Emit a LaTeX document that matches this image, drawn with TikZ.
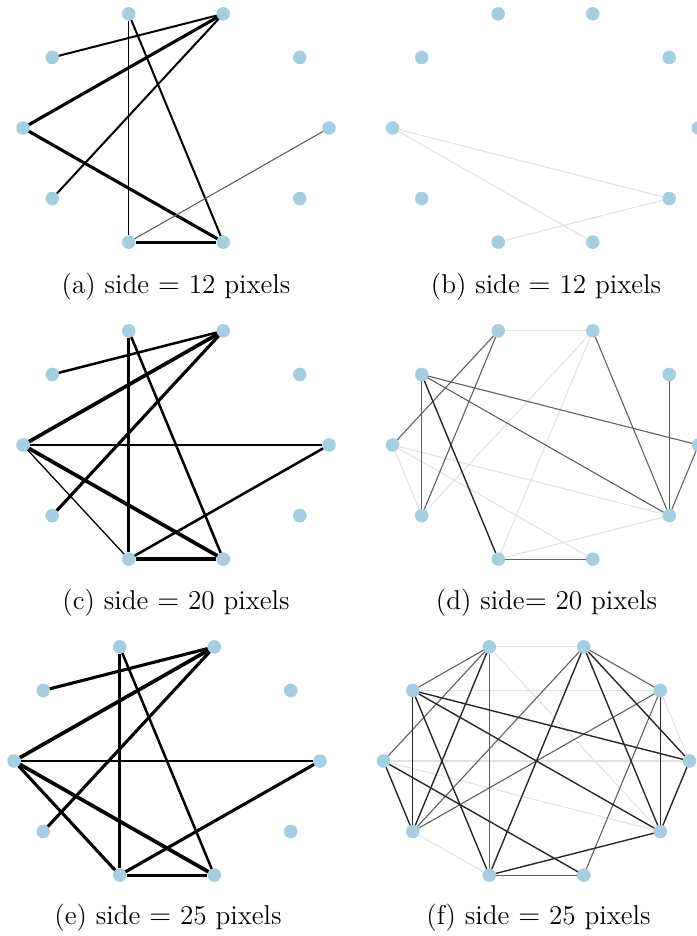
\documentclass[tikz,border=0pt]{standalone}

\definecolor{vertexblue}{RGB}{166,206,227}
\definecolor{edgedark}{RGB}{40,40,40}
\definecolor{edgegray}{RGB}{95,95,95}
\definecolor{edgelight}{RGB}{226,226,226}

\begin{document}
\begin{tikzpicture}[
  x=0.5pt,
  y=-0.5pt,
  every node/.style={inner sep=0pt, outer sep=0pt},
  vertex/.style={circle, fill=vertexblue, minimum size=6.8pt},
  caption/.style={font=\fontsize{13.6}{16}\selectfont, text=black, align=center},
  thinedge/.style={draw=black, line width=0.65pt},
  midedge/.style={draw=black, line width=1.0pt},
  boldedge/.style={draw=black, line width=1.25pt},
  heavyedge/.style={draw=black, line width=1.55pt},
  fatedge/.style={draw=black, line width=1.85pt},
  grayedge/.style={draw=edgegray, line width=0.55pt},
  darkedge/.style={draw=edgedark, line width=0.7pt},
  lightedge/.style={draw=edgelight, line width=0.55pt}
]

  \path[use as bounding box] (0,0) rectangle (696,936);

  % Ten vertices on an ellipse for every panel.
  \foreach \k in {0,...,9} {
    \node[vertex] (a\k) at ({176+153*cos(36*\k)},{128-120*sin(36*\k)}) {};
    \node[vertex] (b\k) at ({545.5+153*cos(36*\k)},{128-120*sin(36*\k)}) {};
    \node[vertex] (c\k) at ({176+153*cos(36*\k)},{445-120*sin(36*\k)}) {};
    \node[vertex] (d\k) at ({545.5+153*cos(36*\k)},{445-120*sin(36*\k)}) {};
    \node[vertex] (e\k) at ({167+153*cos(36*\k)},{761-120*sin(36*\k)}) {};
    \node[vertex] (f\k) at ({536.5+153*cos(36*\k)},{761-120*sin(36*\k)}) {};
  }

  % (a) side = 12 pixels.
  \draw[midedge] (a4) -- (a2);
  \draw[heavyedge] (a5) -- (a2);
  \draw[midedge] (a6) -- (a2);
  \draw[thinedge] (a3) -- (a7);
  \draw[midedge] (a3) -- (a8);
  \draw[heavyedge] (a5) -- (a8);
  \draw[heavyedge] (a7) -- (a8);
  \draw[grayedge] (a7) -- (a0);
  \node[caption] (capa) at (176,287) {(a) side $=$ 12 pixels};

  % (b) side = 12 pixels.
  \draw[lightedge] (b5) -- (b9);
  \draw[lightedge] (b5) -- (b8);
  \draw[lightedge] (b7) -- (b9);
  \node[caption] (capb) at (546,287) {(b) side $=$ 12 pixels};

  % (c) side = 20 pixels.
  \draw[boldedge] (c4) -- (c2);
  \draw[fatedge] (c5) -- (c2);
  \draw[heavyedge] (c6) -- (c2);
  \draw[heavyedge] (c3) -- (c7);
  \draw[boldedge] (c3) -- (c8);
  \draw[midedge] (c5) -- (c0);
  \draw[fatedge] (c5) -- (c8);
  \draw[thinedge] (c5) -- (c7);
  \draw[fatedge] (c7) -- (c8);
  \draw[boldedge] (c7) -- (c0);
  \node[caption] (capc) at (176,603) {(c) side $=$ 20 pixels};

  % (d) side= 20 pixels.
  \draw[lightedge] (d3) -- (d2);
  \draw[lightedge] (d2) -- (d6);
  \draw[lightedge] (d2) -- (d7);
  \draw[lightedge] (d5) -- (d6);
  \draw[lightedge] (d5) -- (d9);
  \draw[lightedge] (d5) -- (d8);
  \draw[lightedge] (d7) -- (d9);
  \draw[grayedge] (d3) -- (d5);
  \draw[grayedge] (d3) -- (d6);
  \draw[grayedge] (d2) -- (d9);
  \draw[grayedge] (d4) -- (d6);
  \draw[darkedge] (d4) -- (d7);
  \draw[grayedge] (d4) -- (d0);
  \draw[grayedge] (d4) -- (d9);
  \draw[grayedge] (d1) -- (d9);
  \draw[grayedge] (d0) -- (d9);
  \draw[grayedge] (d7) -- (d8);
  \node[caption] (capd) at (546.5,603) {(d) side$=$ 20 pixels};

  % (e) side = 25 pixels.
  \draw[heavyedge] (e4) -- (e2);
  \draw[fatedge] (e5) -- (e2);
  \draw[heavyedge] (e6) -- (e2);
  \draw[heavyedge] (e3) -- (e7);
  \draw[boldedge] (e3) -- (e8);
  \draw[boldedge] (e5) -- (e0);
  \draw[heavyedge] (e5) -- (e7);
  \draw[fatedge] (e5) -- (e8);
  \draw[heavyedge] (e7) -- (e8);
  \draw[heavyedge] (e7) -- (e0);
  \node[caption] (cape) at (168,918) {(e) side $=$ 25 pixels};

  % (f) side = 25 pixels.
  \draw[lightedge] (f3) -- (f2);
  \draw[lightedge] (f4) -- (f1);
  \draw[lightedge] (f1) -- (f0);
  \draw[lightedge] (f5) -- (f0);
  \draw[lightedge] (f5) -- (f9);
  \draw[lightedge] (f3) -- (f9);
  \draw[lightedge] (f6) -- (f7);
  \draw[grayedge] (f3) -- (f4);
  \draw[grayedge] (f3) -- (f5);
  \draw[grayedge] (f3) -- (f7);
  \draw[grayedge] (f2) -- (f6);
  \draw[grayedge] (f2) -- (f1);
  \draw[grayedge] (f1) -- (f6);
  \draw[grayedge] (f1) -- (f8);
  \draw[grayedge] (f7) -- (f8);
  \draw[darkedge] (f2) -- (f7);
  \draw[darkedge] (f2) -- (f9);
  \draw[darkedge] (f2) -- (f0);
  \draw[darkedge] (f3) -- (f6);
  \draw[darkedge] (f4) -- (f6);
  \draw[darkedge] (f4) -- (f7);
  \draw[darkedge] (f4) -- (f0);
  \draw[darkedge] (f4) -- (f9);
  \draw[darkedge] (f5) -- (f6);
  \draw[darkedge] (f5) -- (f8);
  \draw[darkedge] (f0) -- (f9);
  \draw[darkedge] (f1) -- (f9);
  \draw[darkedge] (f7) -- (f9);
  \node[caption] (capf) at (538.5,918) {(f) side $=$ 25 pixels};

\end{tikzpicture}
\end{document}
